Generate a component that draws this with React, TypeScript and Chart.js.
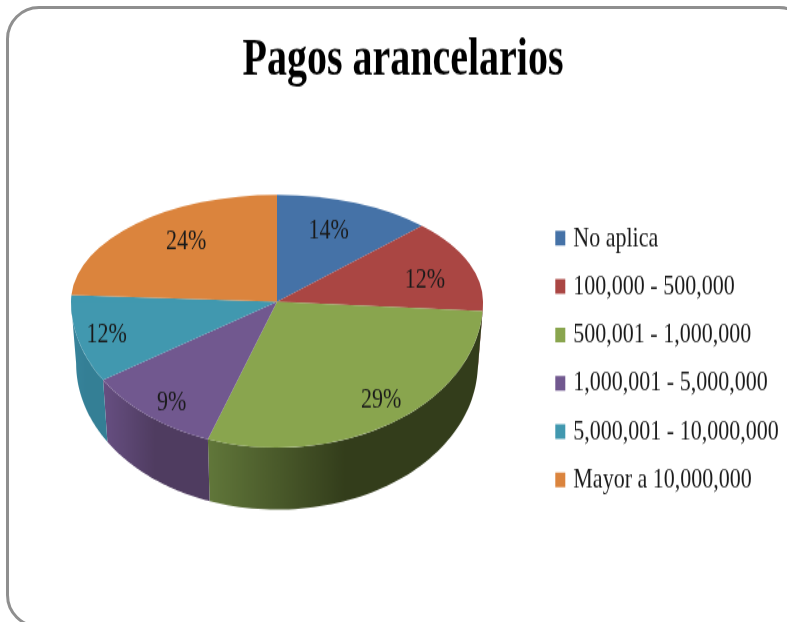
import React, { useEffect, useRef } from "react";
import { Chart, registerables } from "chart.js";

Chart.register(...registerables);

const TITLE = "Pagos arancelarios";
const CATEGORIES = [
  "No aplica",
  "100,000 - 500,000",
  "500,001 - 1,000,000",
  "1,000,001 - 5,000,000",
  "5,000,001 - 10,000,000",
  "Mayor a 10,000,000",
];
const VALUES = [14, 12, 29, 9, 12, 24];
const TOP_COLORS = ["#4572a7", "#aa4643", "#89a54e", "#71588f", "#4198af", "#db843d"];
const WALL_LEFT = ["#35557d", "#7a2f2d", "#61773a", "#674f82", "#38849c", "#a86530"];
const WALL_RIGHT = ["#2c4668", "#5a2421", "#333d1b", "#4f3c60", "#347f95", "#8a5228"];
const LABEL_FX = [0.59, 0.755, 0.9, 0.91, 0.87, 0.645];
const LABEL_FY = [0.73, 0.665, 0.81, 0.83, 0.73, 0.78];
// Perspective of the tilted pie: clockwise degrees from 12 o'clock, true -> as drawn.
const VIEW_IN = [0, 50.4, 93.6, 198, 230.4, 273.6, 360];
const VIEW_OUT = [0, 44.7, 93.6, 199.6, 237.6, 273.6, 360];

const FONT = "'Liberation Serif', 'Times New Roman', serif";
const STRETCH = 1.332;
const CANVAS_W = 787;
const CANVAS_H = 467;
const BACK_K = 80.3 / 206;
const FRONT_K = 109.6 / 206;
const DEPTH = 46.5;
const BOTTOM_RX = 0.975;

const view = (rad: number) => {
  const d = ((rad + Math.PI / 2) * 180) / Math.PI;
  for (let i = 1; i < VIEW_IN.length; i++) {
    if (d <= VIEW_IN[i] + 1e-6) {
      const t = (d - VIEW_IN[i - 1]) / (VIEW_IN[i] - VIEW_IN[i - 1]);
      const o = VIEW_OUT[i - 1] + t * (VIEW_OUT[i] - VIEW_OUT[i - 1]);
      return (o * Math.PI) / 180 - Math.PI / 2;
    }
  }
  return rad;
};

const placement = {
  id: "placement",
  afterLayout(chart: any) {
    const t = chart.titleBlock;
    t.left = 0;
    t.right = 806;
    t.top = 36;
    t.bottom = t.top + t.height;
    const l = chart.legend;
    l.left = 544;
    l.right = 787;
    l.top = 153.5;
    l.bottom = 467;
  },
};

const pie3d = {
  id: "pie3d",
  beforeDatasetsDraw(chart: any) {
    const ctx = chart.ctx as CanvasRenderingContext2D;
    const arcs = chart.getDatasetMeta(0).data as any[];
    if (!arcs.length) return false;
    const cx = arcs[0].x;
    const cy = arcs[0].y;
    const r = arcs[0].outerRadius;
    const mids = arcs.map((arc) => (arc.startAngle + arc.endAngle) / 2);
    const saved = arcs.map((arc) => [arc.startAngle, arc.endAngle, arc.circumference]);
    arcs.forEach((arc) => {
      const a = view(arc.startAngle);
      const b = view(arc.endAngle);
      arc.startAngle = a;
      arc.endAngle = b;
      arc.circumference = b - a;
    });

    const topPt = (a: number) => [
      cx + r * Math.cos(a),
      cy + r * (Math.sin(a) > 0 ? FRONT_K : BACK_K) * Math.sin(a),
    ];
    const botPt = (a: number) => [
      cx + r * BOTTOM_RX * Math.cos(a),
      cy + DEPTH + r * FRONT_K * Math.sin(a),
    ];

    // side wall
    arcs.forEach((arc, i) => {
      const from = Math.max(arc.startAngle, 0);
      const to = Math.min(arc.endAngle, Math.PI);
      if (to <= from) return;
      const n = 60;
      ctx.beginPath();
      for (let s = 0; s <= n; s++) {
        const p = topPt(from + ((to - from) * s) / n);
        if (s === 0) ctx.moveTo(p[0], p[1]);
        else ctx.lineTo(p[0], p[1]);
      }
      for (let s = n; s >= 0; s--) {
        const p = botPt(from + ((to - from) * s) / n);
        ctx.lineTo(p[0], p[1]);
      }
      ctx.closePath();
      const x0 = Math.min(topPt(from)[0], topPt(to)[0]);
      const x1 = Math.max(topPt(from)[0], topPt(to)[0]);
      const g = ctx.createLinearGradient(x0, 0, x1, 0);
      g.addColorStop(0, WALL_LEFT[i]);
      g.addColorStop(0.5, WALL_RIGHT[i]);
      g.addColorStop(1, WALL_RIGHT[i]);
      ctx.fillStyle = g;
      ctx.fill();
    });

    // top face, back half and front half with their own squash
    const half = (k: number, y: number, h: number) => {
      ctx.save();
      ctx.beginPath();
      ctx.rect(0, y, CANVAS_W, h);
      ctx.clip();
      ctx.translate(0, cy);
      ctx.scale(1, k);
      ctx.translate(0, -cy);
      arcs.forEach((arc) => arc.draw(ctx));
      ctx.restore();
    };
    half(BACK_K, 0, cy + 0.5);
    half(FRONT_K, cy, CANVAS_H - cy);

    arcs.forEach((arc, i) => {
      arc.startAngle = saved[i][0];
      arc.endAngle = saved[i][1];
      arc.circumference = saved[i][2];
    });

    // percentage labels
    const total = VALUES.reduce((a, b) => a + b, 0);
    ctx.save();
    ctx.font = `22px ${FONT}`;
    ctx.fillStyle = "#1a1a1a";
    ctx.textAlign = "center";
    ctx.textBaseline = "middle";
    arcs.forEach((_, i) => {
      const mid = mids[i];
      const s = Math.sin(mid);
      const x = cx + r * LABEL_FX[i] * Math.cos(mid);
      const y = cy + r * LABEL_FY[i] * (s > 0 ? FRONT_K : BACK_K) * s;
      ctx.fillText(`${Math.round((VALUES[i] / total) * 100)}%`, x, y);
    });
    ctx.restore();
    return false;
  },
};

export default function App() {
  const ref = useRef<HTMLCanvasElement | null>(null);
  useEffect(() => {
    if (!ref.current) return;
    const chart = new Chart(ref.current, {
      type: "pie",
      data: {
        labels: CATEGORIES,
        datasets: [{ data: VALUES, backgroundColor: TOP_COLORS, borderWidth: 0 }],
      },
      options: {
        responsive: false,
        animation: false,
        events: [],
        layout: { padding: { left: 71, right: 304, top: 0, bottom: 34 } },
        plugins: {
          tooltip: { enabled: false },
          title: {
            display: true,
            text: TITLE,
            color: "#000",
            padding: 0,
            font: { family: FONT, size: 40, weight: "bold", lineHeight: 0.5 },
          },
          legend: {
            position: "chartArea",
            align: "start",
            labels: {
              boxWidth: 4,
              boxHeight: 5,
              padding: 14.3,
              color: "#1a1a1a",
              font: { family: FONT, size: 22, lineHeight: 1 },
              generateLabels(c: any) {
                const base = (Chart as any).overrides.pie.plugins.legend.labels.generateLabels(c);
                return base.map((it: any) => ({ ...it, strokeStyle: it.fillStyle, lineWidth: 6 }));
              },
            },
          },
        },
      } as any,
      plugins: [placement, pie3d],
    });
    return () => chart.destroy();
  }, []);

  return (
    <div
      style={{
        position: "fixed",
        left: 0,
        top: 0,
        width: 787,
        height: 622,
        overflow: "hidden",
        background: "#fff",
      }}
    >
      <div
        style={{
          position: "absolute",
          left: 6,
          top: 6,
          width: 806,
          height: 622,
          boxSizing: "border-box",
          border: "3px solid #8f8f8f",
          borderRadius: 33,
          filter: "blur(0.5px)",
        }}
      />
      <canvas
        ref={ref}
        width={CANVAS_W}
        height={CANVAS_H}
        style={{
          position: "absolute",
          left: 0,
          top: 0,
          width: CANVAS_W,
          height: CANVAS_H,
          transform: `scaleY(${STRETCH})`,
          transformOrigin: "0 0",
          filter: "blur(0.4px)",
        }}
      />
    </div>
  );
}
